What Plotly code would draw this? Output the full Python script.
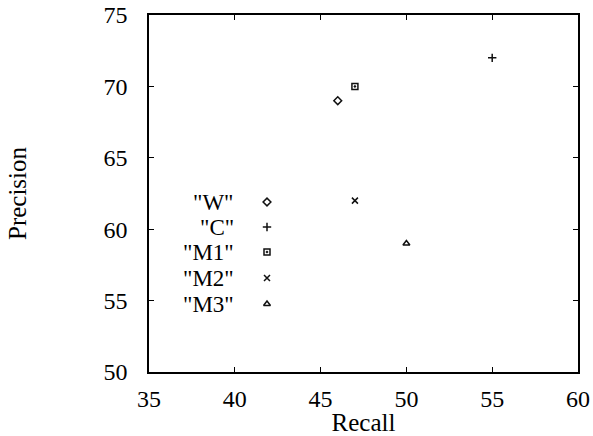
import plotly.graph_objects as go

names = ['"W"', '"C"', '"M1"', '"M2"', '"M3"']
recall = [46, 55, 47, 47, 50]
precision = [69, 72, 70, 62, 59]
symbols = ["diamond-open", "cross-thin-open", "square-open-dot", "x-thin-open", "triangle-up-open"]
x_ticks = [35, 40, 45, 50, 55, 60]
y_ticks = [50, 55, 60, 65, 70, 75]

FONT = "Liberation Serif"
W, H = 593, 436
ml, mr, mt, mb = 149, 15, 15, 64
pw, ph = W - ml - mr, H - mt - mb

fig = go.Figure()
for n, x, y, s in zip(names, recall, precision, symbols):
    fig.add_trace(go.Scatter(x=[x], y=[y], mode="markers", name=n,
                             marker=dict(symbol=s, size=6, color="#111",
                                         line=dict(width=1.5, color="#111")),
                             showlegend=False))

# gnuplot-style key: text right-aligned, symbol to the right
key_sym_x = (267 - ml) / pw
key_txt_x = (236 - ml) / pw
key_rows = [202, 227, 252, 278, 304]
for n, s, py in zip(names, symbols, key_rows):
    fy = 1 - (py - mt) / ph
    fig.add_trace(go.Scatter(x=[key_sym_x], y=[fy], xaxis="x2", yaxis="y2",
                             mode="markers", showlegend=False, hoverinfo="skip",
                             marker=dict(symbol=s, size=6, color="#111",
                                         line=dict(width=1.5, color="#111"))))
    fig.add_annotation(x=key_txt_x, y=fy, xref="paper", yref="paper", text=n,
                       showarrow=False, xanchor="right", yanchor="middle",
                       font=dict(family=FONT, size=23, color="black"))

axis_common = dict(showgrid=False, zeroline=False, showline=True, linecolor="black",
                   linewidth=1.6, mirror="ticks", ticks="inside", ticklen=5,
                   tickwidth=1.4, tickcolor="black", automargin=False,
                   tickfont=dict(family=FONT, size=24, color="black"))

fig.update_layout(
    width=W, height=H,
    margin=dict(l=ml, r=mr, t=mt, b=mb),
    paper_bgcolor="white", plot_bgcolor="white",
    font=dict(family=FONT, size=24, color="black"),
    showlegend=False,
    xaxis=dict(range=[35, 60], tickvals=x_ticks, ticklabelstandoff=4,
               title=dict(text="Recall", standoff=0, font=dict(family=FONT, size=25)), **axis_common),
    yaxis=dict(range=[50, 75], tickvals=y_ticks, ticklabelstandoff=15,
               title=dict(text="Precision", standoff=70, font=dict(family=FONT, size=25)), **axis_common),
    xaxis2=dict(range=[0, 1], overlaying="x", visible=False),
    yaxis2=dict(range=[0, 1], overlaying="y", visible=False),
)

fig.write_html("out.html")
